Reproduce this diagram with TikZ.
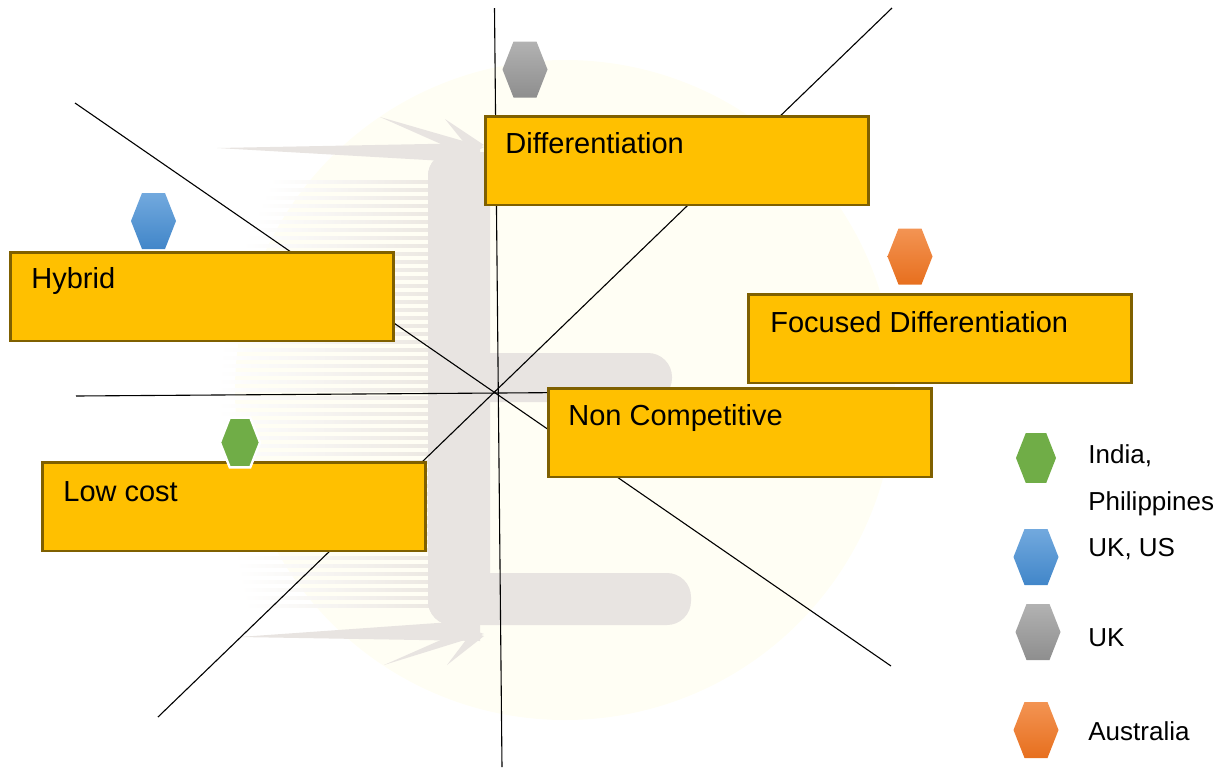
\documentclass[tikz,border=0pt]{standalone}
\usepackage{fontspec}
\setmainfont{Liberation Sans}
\definecolor{boxfill}{HTML}{FFC000}
\definecolor{boxedge}{HTML}{7F6000}
\definecolor{markcream}{HTML}{FFFEF4}
\definecolor{markgrey}{HTML}{E8E4E1}
\definecolor{streakgrey}{HTML}{ECE8E2}
\definecolor{hexgreen}{HTML}{70AD47}
\definecolor{bluetop}{HTML}{72A9DE}
\definecolor{bluebot}{HTML}{4186C9}
\definecolor{greytop}{HTML}{B2B2B2}
\definecolor{greybot}{HTML}{8E8E8E}
\definecolor{orangetop}{HTML}{F39453}
\definecolor{orangebot}{HTML}{E76F1E}
\begin{document}
\begin{tikzpicture}[x=0.5pt,y=-0.5pt,
  stratbox/.style={draw=boxedge, fill=boxfill, line width=1.3pt,
    minimum width=191.5pt, minimum height=44.3pt, inner sep=0pt, anchor=north west},
  boxlabel/.style={anchor=base west, inner sep=0pt, font=\fontsize{14.5}{17}\selectfont},
  legendlabel/.style={anchor=base west, inner sep=0pt, font=\fontsize{13}{15}\selectfont},
  axisline/.style={line width=0.55pt, draw=black},
  hexa/.pic={\path[pic actions] (-22.5,0) -- (-11.5,-28) -- (11.5,-28) -- (22.5,0)
      -- (11.5,28) -- (-11.5,28) -- cycle;},
  bluehex/.style={top color=bluetop, bottom color=bluebot},
  greyhex/.style={top color=greytop, bottom color=greybot},
  orangehex/.style={top color=orangetop, bottom color=orangebot},
  greenhex/.style={fill=hexgreen, scale=0.89},
  watermark/.style={fill=markgrey, draw=none, rounded corners=12pt}
]
\useasboundingbox (0,0) rectangle (1228,767);

% ---- faint logo in the background ----
\fill[markcream] (565,390) circle[radius=165pt];
\foreach \yy in {180,188,...,604}{
  \pgfmathsetmacro\dd{(\yy-390)/10}
  \pgfmathsetmacro\xs{217 + (\yy<390 ? 0.12 : 0.06)*\dd*\dd}
  \shade[left color=white, right color=streakgrey] (\xs,\yy) rectangle (430,\yy+3);
}
% feathered arrows
\fill[markgrey] (217,148) -- (480,143) -- (480,163) -- cycle;
\fill[markgrey] (380,117) -- (484,147) -- (468,156) -- cycle;
\fill[markgrey] (445,119) -- (484,145) -- (470,150) -- cycle;
\fill[markgrey] (239,637) -- (480,620) -- (480,641) -- cycle;
\fill[markgrey] (384,665) -- (484,634) -- (468,628) -- cycle;
\fill[markgrey] (447,665) -- (484,636) -- (472,632) -- cycle;
% the E
\path[watermark] (428,152) rectangle (490,625);
\path[watermark] (428,152) rectangle (690,205);
\path[watermark] (428,353) rectangle (672,402);
\path[watermark] (428,573) rectangle (691,625);

% ---- axes ----
\coordinate (vtop) at (494.5,8);
\coordinate (vbot) at (502,767);
\coordinate (hleft) at (76,396);
\coordinate (hright) at (640,392);
\coordinate (aone) at (75,103);
\coordinate (atwo) at (891,666);
\coordinate (bone) at (158,717);
\coordinate (btwo) at (892,8);
\draw[axisline] (vtop) -- (vbot);
\draw[axisline] (hleft) -- (hright);
\draw[axisline] (aone) -- (atwo);
\draw[axisline] (bone) -- (btwo);

% ---- strategy boxes ----
\node[stratbox] (diff) at (484,115) {};
\node[stratbox] (hybrid) at (9,251) {};
\node[stratbox] (focus) at (747,293) {};
\node[stratbox] (noncomp) at (547,387) {};
\node[stratbox] (lowcost) at (41,461) {};

\node[boxlabel] (difftext) at (505,153) {Differentiation};
\node[boxlabel] (hybridtext) at (31,288) {Hybrid};
\node[boxlabel] (focustext) at (770,332) {Focused Differentiation};
\node[boxlabel] (noncomptext) at (568,425) {Non Competitive};
\node[boxlabel] (lowcosttext) at (63,501) {Low cost};

% ---- country markers ----
\pic[greyhex] (mkdiff) at (525,69.5) {hexa};
\pic[bluehex] (mkhybrid) at (153.5,221) {hexa};
\pic[orangehex] (mkfocus) at (910,256.5) {hexa};
\pic[greenhex, draw=white, line width=1.2pt] (mklow) at (240,442.5) {hexa};

% ---- legend ----
\pic[greenhex] (lgreen) at (1036,458) {hexa};
\pic[bluehex] (lblue) at (1036,557) {hexa};
\pic[greyhex] (lgrey) at (1038,632) {hexa};
\pic[orangehex] (lorange) at (1036,730) {hexa};

\node[legendlabel] (lgtxta) at (1088,463) {India,};
\node[legendlabel] (lgtxtb) at (1088,510) {Philippines};
\node[legendlabel] (lgtxtc) at (1088,556) {UK, US};
\node[legendlabel] (lgtxtd) at (1088,646) {UK};
\node[legendlabel] (lgtxte) at (1088,740) {Australia};
\end{tikzpicture}
\end{document}
